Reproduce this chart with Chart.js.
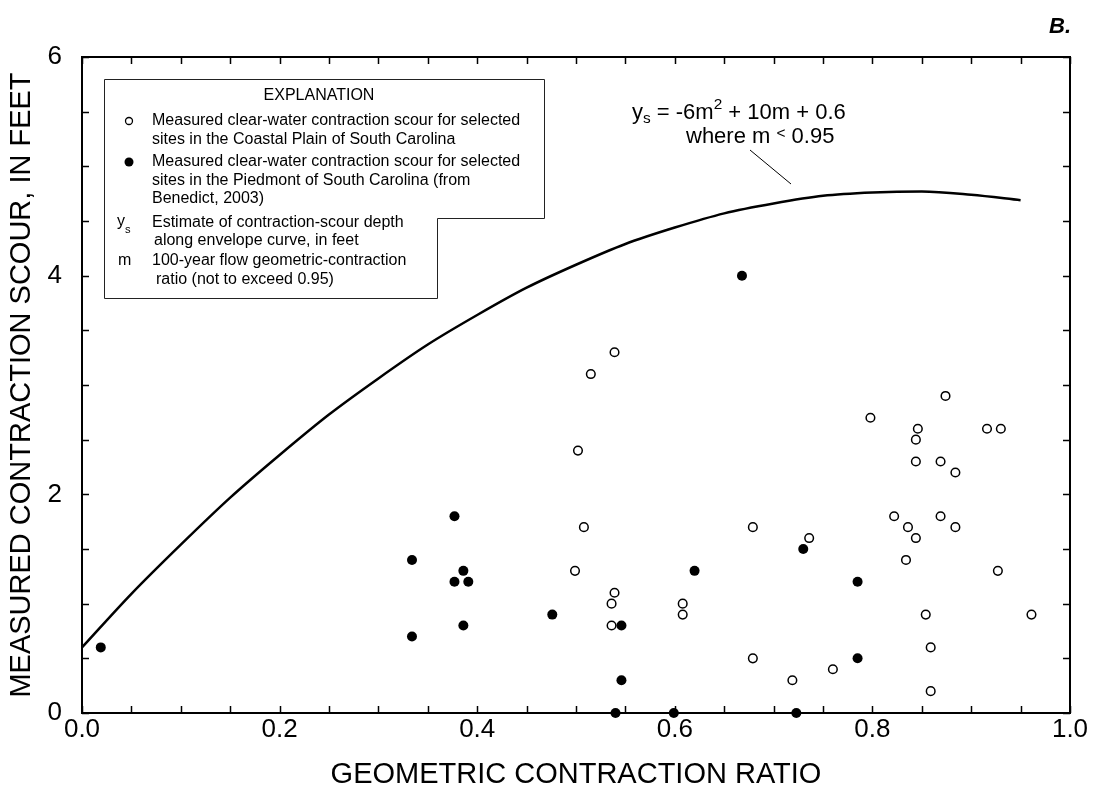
<!DOCTYPE html>
<html>
<head>
<meta charset="utf-8">
<script src="https://cdn.jsdelivr.net/npm/chart.js@4.4.1/dist/chart.umd.min.js"></script>
<style>
  body { margin: 0; background: #fff; }
  #wrap { width: 1096px; height: 792px; }
</style>
</head>
<body>
<div id="wrap"><canvas id="scourChart" width="1096" height="792"></canvas></div>
<script>
// envelope curve (ys vs m)
const curveM  = [0, 0.05, 0.1, 0.15, 0.2, 0.25, 0.3, 0.35, 0.4, 0.45, 0.5, 0.55, 0.6, 0.65, 0.7, 0.75, 0.8, 0.85, 0.9, 0.95];
const curveYs = [0.6, 1.09, 1.54, 1.97, 2.36, 2.73, 3.06, 3.37, 3.64, 3.89, 4.1, 4.29, 4.44, 4.57, 4.66, 4.73, 4.76, 4.77, 4.74, 4.69];

// Coastal Plain sites (open circles)
const coastalRatio = [0.508, 0.499, 0.539, 0.536, 0.536, 0.608, 0.608, 0.539, 0.515, 0.502,
  0.874, 0.798, 0.846, 0.916, 0.930, 0.844, 0.844, 0.869, 0.884, 0.822,
  0.869, 0.679, 0.836, 0.884, 0.736, 0.844, 0.834, 0.927, 0.854, 0.961,
  0.859, 0.679, 0.760, 0.719, 0.859];
const coastalScour = [1.7, 1.3, 1.1, 1.0, 0.8, 1.0, 0.9, 3.3, 3.1, 2.4,
  2.9, 2.7, 2.6, 2.6, 2.6, 2.5, 2.3, 2.3, 2.2, 1.8,
  1.8, 1.7, 1.7, 1.7, 1.6, 1.6, 1.4, 1.3, 0.9, 0.9,
  0.6, 0.5, 0.4, 0.3, 0.2];

// Piedmont sites (filled circles), Benedict 2003
const piedmontRatio = [0.019, 0.377, 0.334, 0.386, 0.377, 0.391, 0.386, 0.334, 0.476, 0.546,
  0.546, 0.540, 0.599, 0.620, 0.668, 0.730, 0.785, 0.785, 0.723];
const piedmontScour = [0.6, 1.8, 1.4, 1.3, 1.2, 1.2, 0.8, 0.7, 0.9, 0.8,
  0.3, 0, 0, 1.3, 4.0, 1.5, 1.2, 0.5, 0];

const xTicks = [0, 0.2, 0.4, 0.6, 0.8, 1.0];
const yTicks = [0, 2, 4, 6];

const FONT = '"Liberation Sans", Arial, sans-serif';

function toPoints(xs, ys) {
  return xs.map((x, i) => ({ x: x, y: ys[i] }));
}

// frame with inward tick marks on all four sides
const framePlugin = {
  id: 'frame',
  afterDatasetsDraw(chart) {
    const { ctx, chartArea: a, scales } = chart;
    ctx.save();
    ctx.strokeStyle = '#000';
    ctx.lineWidth = 1.5;
    const len = 7;
    ctx.beginPath();
    for (const t of scales.x.ticks) {
      const px = Math.round(scales.x.getPixelForValue(t.value)) + 0.5;
      ctx.moveTo(px, a.bottom); ctx.lineTo(px, a.bottom - len);
      ctx.moveTo(px, a.top); ctx.lineTo(px, a.top + len);
    }
    for (const t of scales.y.ticks) {
      const py = Math.round(scales.y.getPixelForValue(t.value)) + 0.5;
      ctx.moveTo(a.left, py); ctx.lineTo(a.left + len, py);
      ctx.moveTo(a.right, py); ctx.lineTo(a.right - len, py);
    }
    ctx.stroke();
    ctx.lineWidth = 2;
    ctx.strokeRect(a.left, a.top, a.right - a.left, a.bottom - a.top);
    ctx.restore();
  }
};

// writes pieces of text one after another, with sub/superscripts
function drawRuns(ctx, x, y, runs, size) {
  for (const r of runs) {
    const s = r.small ? size * 0.7 : size;
    ctx.font = s + 'px ' + FONT;
    ctx.fillText(r.t, x, y + (r.dy || 0));
    x += ctx.measureText(r.t).width;
  }
}

const notesPlugin = {
  id: 'notes',
  afterDraw(chart) {
    const ctx = chart.ctx;
    ctx.save();
    ctx.fillStyle = '#000';
    ctx.strokeStyle = '#222';
    ctx.textBaseline = 'middle';

    // explanation box (notched)
    ctx.lineWidth = 1;
    ctx.beginPath();
    ctx.moveTo(104.5, 79.5);
    ctx.lineTo(544.5, 79.5);
    ctx.lineTo(544.5, 218.5);
    ctx.lineTo(437.5, 218.5);
    ctx.lineTo(437.5, 298.5);
    ctx.lineTo(104.5, 298.5);
    ctx.closePath();
    ctx.stroke();

    const fs = 16;
    ctx.font = fs + 'px ' + FONT;
    ctx.textAlign = 'center';
    ctx.fillText('EXPLANATION', 319, 96);
    ctx.textAlign = 'left';
    ctx.fillText('Measured clear-water contraction scour for selected', 152, 121);
    ctx.fillText('sites in the Coastal Plain of South Carolina', 152, 140);
    ctx.fillText('Measured clear-water contraction scour for selected', 152, 162);
    ctx.fillText('sites in the Piedmont of South Carolina (from', 152, 181);
    ctx.fillText('Benedict, 2003)', 152, 199);
    ctx.fillText('Estimate of contraction-scour depth', 152, 223);
    ctx.fillText('along envelope curve, in feet', 154, 241);
    ctx.fillText('100-year flow geometric-contraction', 152, 261);
    ctx.fillText('ratio (not to exceed 0.95)', 156, 280);
    drawRuns(ctx, 117, 222, [{ t: 'y' }, { t: 's', small: true, dy: 8 }], fs);
    ctx.font = fs + 'px ' + FONT;
    ctx.fillText('m', 118, 261);

    ctx.lineWidth = 1.3;
    ctx.strokeStyle = '#000';
    ctx.beginPath();
    ctx.arc(129, 121, 3.5, 0, Math.PI * 2);
    ctx.stroke();
    ctx.beginPath();
    ctx.arc(129, 162, 4.5, 0, Math.PI * 2);
    ctx.fill();

    // equation label and leader line
    const es = 22;
    drawRuns(ctx, 632, 113, [
      { t: 'y' }, { t: 's', small: true, dy: 6 },
      { t: ' = -6m' }, { t: '2', small: true, dy: -8 },
      { t: ' + 10m + 0.6' }
    ], es);
    drawRuns(ctx, 686, 137, [
      { t: 'where m ' }, { t: '<', small: true, dy: -3 }, { t: ' 0.95' }
    ], es);
    ctx.lineWidth = 1;
    ctx.beginPath();
    ctx.moveTo(750, 150);
    ctx.lineTo(791, 184);
    ctx.stroke();

    ctx.font = 'italic bold 22px ' + FONT;
    ctx.textAlign = 'right';
    ctx.textBaseline = 'alphabetic';
    ctx.fillText('B.', 1071, 33);
    ctx.restore();
  }
};

const ctx = document.getElementById('scourChart').getContext('2d');

new Chart(ctx, {
  type: 'scatter',
  data: {
    datasets: [
      {
        label: 'Envelope curve',
        data: toPoints(curveM, curveYs),
        showLine: true,
        borderColor: '#000',
        borderWidth: 2.5,
        pointRadius: 0,
        cubicInterpolationMode: 'monotone',
        fill: false
      },
      {
        label: 'Coastal Plain',
        data: toPoints(coastalRatio, coastalScour),
        pointRadius: 4.3,
        pointBorderWidth: 1.5,
        pointBorderColor: '#000',
        pointBackgroundColor: '#fff',
        clip: false
      },
      {
        label: 'Piedmont',
        data: toPoints(piedmontRatio, piedmontScour),
        pointRadius: 5,
        pointBorderWidth: 0,
        pointBackgroundColor: '#000',
        clip: false
      }
    ]
  },
  options: {
    responsive: false,
    animation: false,
    layout: { padding: { top: 57, right: 26, left: 0, bottom: 0 } },
    plugins: {
      legend: { display: false },
      tooltip: { enabled: false }
    },
    scales: {
      x: {
        type: 'linear',
        min: 0,
        max: 1,
        afterFit(scale) { scale.height = 79; },
        grid: { display: false, drawTicks: false },
        border: { display: false },
        ticks: {
          stepSize: 0.05,
          autoSkip: false,
          maxRotation: 0,
          padding: 1,
          color: '#000',
          font: { family: FONT, size: 26 },
          callback: v => xTicks.some(t => Math.abs(t - v) < 1e-6) ? v.toFixed(1) : ''
        },
        title: {
          display: true,
          text: 'GEOMETRIC CONTRACTION RATIO',
          color: '#000',
          font: { family: FONT, size: 29 },
          padding: { top: 0, bottom: 0 }
        }
      },
      y: {
        min: 0,
        max: 6,
        afterFit(scale) { scale.width = 82; },
        grid: { display: false, drawTicks: false },
        border: { display: false },
        ticks: {
          stepSize: 0.5,
          autoSkip: false,
          padding: 20,
          color: '#000',
          font: { family: FONT, size: 26 },
          callback: v => yTicks.includes(v) ? String(v) : ''
        },
        title: {
          display: true,
          text: 'MEASURED CONTRACTION SCOUR, IN FEET',
          color: '#000',
          font: { family: FONT, size: 29 },
          padding: { top: 5, bottom: 0 }
        }
      }
    }
  },
  plugins: [framePlugin, notesPlugin]
});
</script>
</body>
</html>
